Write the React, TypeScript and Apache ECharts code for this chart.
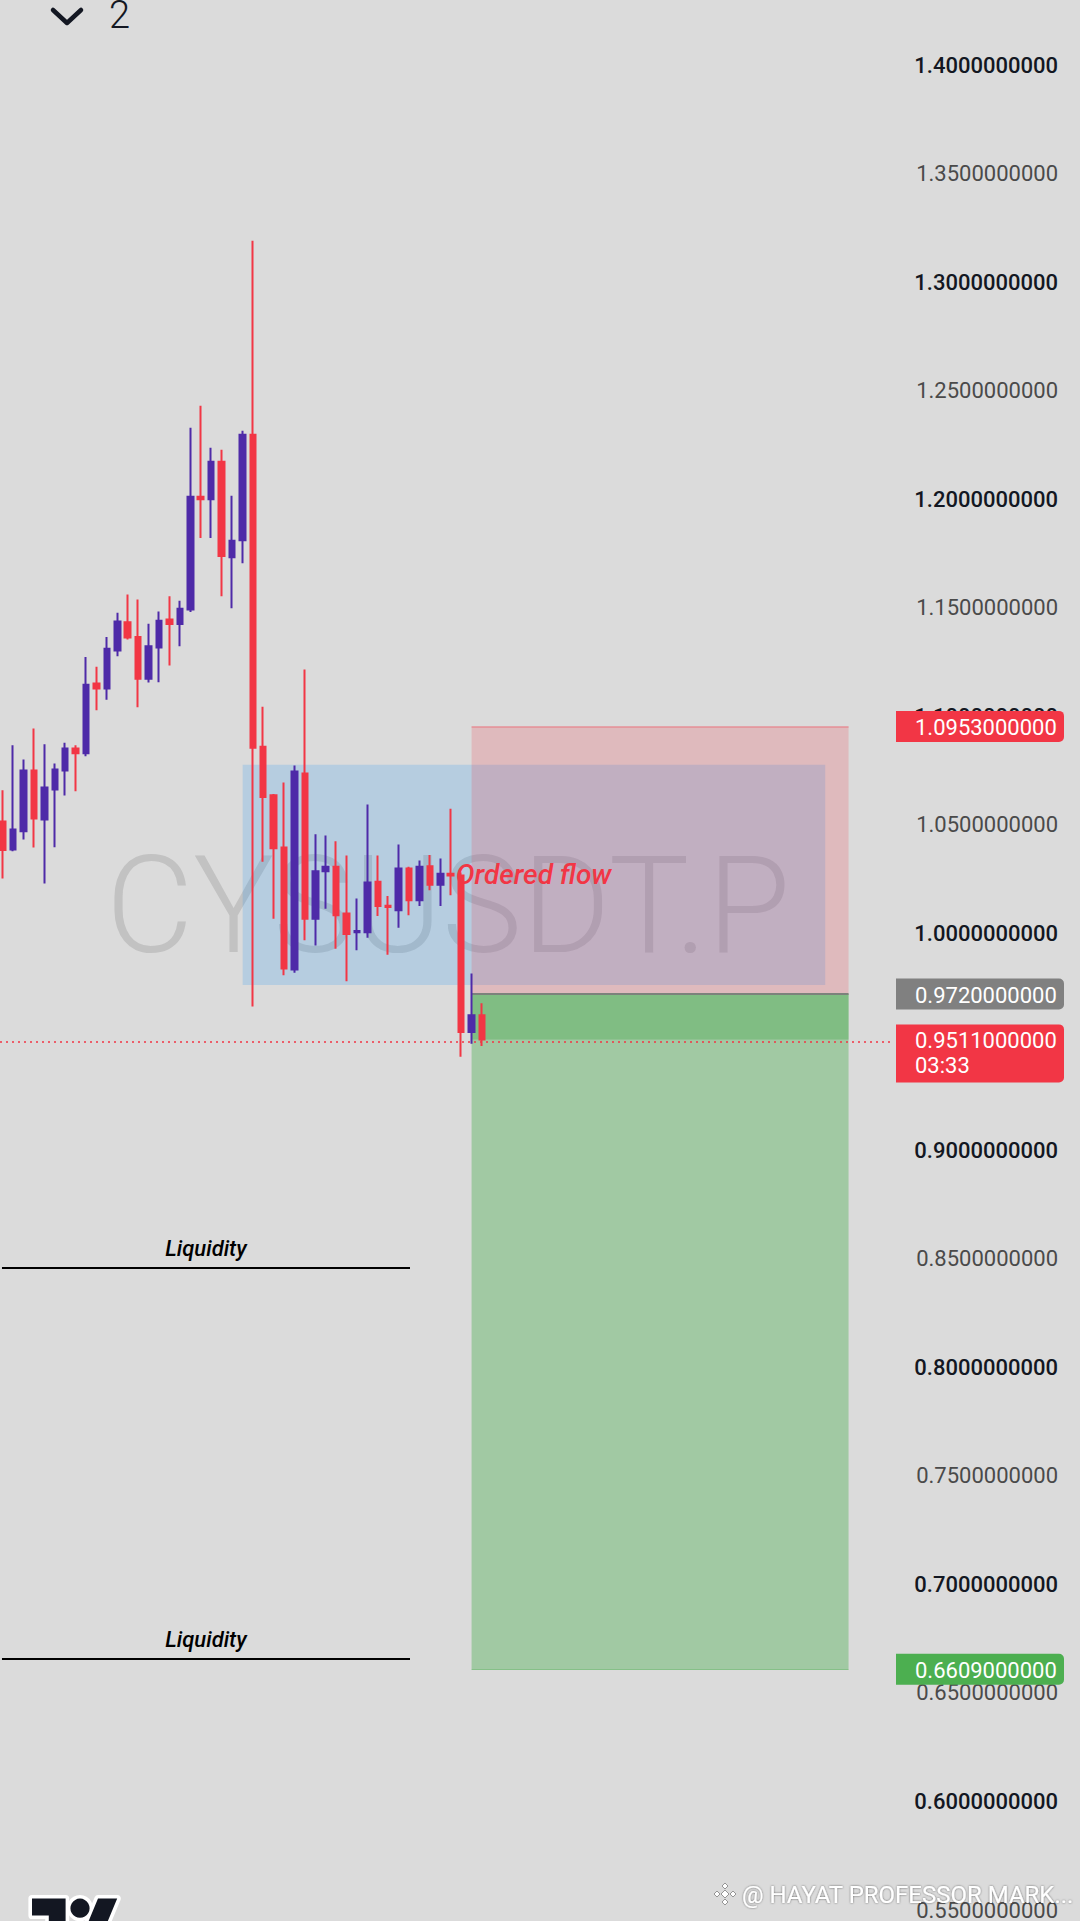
import React, { useEffect, useRef } from 'react';
import * as echarts from 'echarts';

// ---- candle data (CYSUSDT.P) ----
const candleIndex = [0, 1, 2, 3, 4, 5, 6, 7, 8, 9, 10, 11, 12, 13, 14, 15, 16, 17, 18, 19, 20, 21, 22, 23, 24, 25, 26, 27, 28, 29, 30, 31, 32, 33, 34, 35, 36, 37, 38, 39, 40, 41, 42, 43, 44, 45, 46];
const opens = [1.0515, 1.0386, 1.0470, 1.0750, 1.0524, 1.0662, 1.0750, 1.0851, 1.0829, 1.1150, 1.1128, 1.1302, 1.1433, 1.1365, 1.1173, 1.1316, 1.1445, 1.1425, 1.1491, 1.2011, 1.1999, 1.2172, 1.1732, 1.1810, 1.2297, 1.0859, 1.0636, 1.0395, 0.9833, 1.0736, 1.0067, 1.0286, 1.0306, 1.0091, 1.0004, 1.0005, 1.0237, 1.0127, 1.0106, 1.0298, 1.0152, 1.0309, 1.0223, 1.0274, 1.0266, 0.9545, 0.9622];
const closes = [1.0383, 1.0478, 1.0750, 1.0529, 1.0671, 1.0754, 1.0851, 1.0829, 1.1145, 1.1128, 1.1311, 1.1436, 1.1363, 1.1172, 1.1322, 1.1440, 1.1425, 1.1495, 1.2011, 1.1999, 1.2172, 1.1738, 1.1808, 1.2297, 1.0854, 1.0628, 1.0392, 0.9837, 1.0745, 1.0067, 1.0285, 1.0306, 1.0083, 0.9996, 1.0010, 1.0234, 1.0125, 1.0121, 1.0298, 1.0152, 1.0306, 1.0223, 1.0274, 1.0266, 0.9545, 0.9622, 0.9511];
const lows = [1.0252, 1.0378, 1.0432, 1.0395, 1.0229, 1.0396, 1.0634, 1.0654, 1.0815, 1.1027, 1.1076, 1.1276, 1.1353, 1.1041, 1.1155, 1.1156, 1.1233, 1.1322, 1.1480, 1.1821, 1.1821, 1.1552, 1.1497, 1.1704, 0.9662, 1.0329, 1.0067, 0.9806, 0.9818, 0.9968, 0.9944, 1.0113, 0.9929, 0.9779, 0.9922, 0.9979, 1.0079, 0.9901, 1.0025, 1.0083, 1.0125, 1.0198, 1.0125, 1.0175, 0.9431, 0.9491, 0.9480];
const highs = [1.0659, 1.0866, 1.0800, 1.0943, 1.0871, 1.0782, 1.0878, 1.0866, 1.1273, 1.1228, 1.1365, 1.1477, 1.1561, 1.1537, 1.1426, 1.1482, 1.1552, 1.1532, 1.2329, 1.2430, 1.2237, 1.2227, 1.2016, 1.2315, 1.3190, 1.1044, 1.0642, 1.0694, 1.0773, 1.1215, 1.0456, 1.0450, 1.0424, 1.0358, 1.0160, 1.0593, 1.0358, 1.0171, 1.0409, 1.0306, 1.0335, 1.0360, 1.0344, 1.0573, 1.0280, 0.9815, 0.9677];

// ---- price axis ----
const priceMin = 0.55;
const priceMax = 1.40;
const priceStep = 0.05;
const xMin = -0.26;
const xMax = 85.35;

// ---- drawings ----
// range box, stop zone, target zone, open-profit zone
const zoneX0 = [23.03, 45.0, 45.0, 45.0];
const zoneX1 = [78.94, 81.18, 81.18, 81.18];
const zoneTop = [1.0776, 1.0953, 0.972, 0.972];
const zoneBottom = [0.9761, 0.972, 0.6609, 0.9511];
const zoneColors = ['rgba(33,150,243,0.2)', 'rgba(242,54,69,0.2)', 'rgba(76,175,80,0.4)', 'rgba(70,170,74,0.36)'];

const liquidityLabel = 'Liquidity';
const liquidityX0 = [-0.07, -0.07];
const liquidityX1 = [39.09, 39.09];
const liquidityPrice = [0.8459, 0.6658];

const lastPrice = 0.9511;
const countdown = '03:33';
const tagValues = [1.0953, 0.972, 0.9511, 0.6609];
const tagColors = ['#f23645', '#808080', '#f23645', '#4caf50'];

const noteText = 'Ordered flow';
const noteX = 43.3;
const notePrice = 1.0271;

const symbolWatermark = 'CYSUSDT.P';
const authorWatermark = '@ HAYAT PROFESSOR MARK...';
const topLeftCount = '2';

const UP = '#4e2aa8';
const DOWN = '#f23645';
const FONT = 'Roboto, "Noto Sans", sans-serif';

const TV_PATH = 'M14 22H7V11H0V4h14v18zM28 22h-8l7.5-18h8L28 22z';
let registered = false;
function registerShapes() {
  if (registered) return;
  registered = true;
  echarts.graphic.registerShape('tvlogo', echarts.graphic.extendPath(TV_PATH, {}) as any);
}

export default function App() {
  const ref = useRef<HTMLDivElement>(null);

  useEffect(() => {
    if (!ref.current) return;
    registerShapes();
    const chart = echarts.init(ref.current, undefined, { renderer: 'svg' });

    const candles = candleIndex.map((i, k) => [i, opens[k], closes[k], lows[k], highs[k]]);

    const zoneData = zoneX0.map((x0, k) => [
      { coord: [x0, zoneTop[k]], itemStyle: { color: zoneColors[k], borderWidth: 0 } },
      { coord: [zoneX1[k], zoneBottom[k]] },
    ]);

    const borderLines = [
      [
        { coord: [zoneX0[1], zoneTop[1]], lineStyle: { color: 'rgba(242,54,69,0.35)', width: 1.5, type: 'solid' } },
        { coord: [zoneX1[1], zoneTop[1]] },
      ],
      [
        { coord: [zoneX0[1], zoneBottom[1]], lineStyle: { color: '#7c827c', width: 2, type: 'solid' } },
        { coord: [zoneX1[1], zoneBottom[1]] },
      ],
      [
        { coord: [zoneX0[2], zoneBottom[2]], lineStyle: { color: 'rgba(76,175,80,0.55)', width: 1, type: 'solid' } },
        { coord: [zoneX1[2], zoneBottom[2]] },
      ],
    ];

    const liqLines = liquidityPrice.map((p, k) => [
      { coord: [liquidityX0[k], p] },
      { coord: [liquidityX1[k], p] },
    ]);

    const option: any = {
      animation: false,
      backgroundColor: '#dbdbdb',
      textStyle: { fontFamily: FONT },
      grid: { left: 0, top: 65, width: 892, height: 1845 },
      xAxis: { type: 'value', min: xMin, max: xMax, show: false, splitLine: { show: false } },
      yAxis: {
        type: 'value',
        position: 'right',
        min: priceMin,
        max: priceMax,
        interval: priceStep,
        scale: true,
        axisLine: { show: false },
        axisTick: { show: false },
        splitLine: { show: false },
        axisLabel: {
          align: 'right',
          margin: 166,
          formatter: (v: number) => {
            const k = Math.round(v / priceStep);
            return (k % 2 === 0 ? '{b|' : '{n|') + v.toFixed(10) + '}';
          },
          rich: {
            b: { fontFamily: FONT, fontSize: 22, fontWeight: 500, color: '#131722' },
            n: { fontFamily: FONT, fontSize: 22, fontWeight: 'normal', color: '#4a4a4a' },
          },
        },
      },
      series: [
        {
          type: 'line',
          name: 'zones',
          data: [],
          z: 1,
          silent: true,
          markArea: { silent: true, data: zoneData },
          markLine: {
            silent: true,
            symbol: ['none', 'none'],
            label: { show: false },
            data: borderLines,
          },
        },
        {
          type: 'line',
          name: 'liquidity',
          data: [],
          z: 2,
          silent: true,
          markLine: {
            silent: true,
            symbol: ['none', 'none'],
            lineStyle: { color: '#000000', width: 2, type: 'solid' },
            label: {
              show: true,
              position: 'insideMiddleTop',
              formatter: liquidityLabel,
              fontFamily: FONT,
              fontStyle: 'italic',
              fontWeight: 500,
              fontSize: 22,
              color: '#000000',
              distance: 8,
            },
            data: liqLines,
          },
        },
        {
          type: 'candlestick',
          name: 'CYSUSDT.P',
          z: 5,
          barWidth: 6,
          data: candles,
          itemStyle: {
            color: UP,
            color0: DOWN,
            borderColor: UP,
            borderColor0: DOWN,
            borderWidth: 2,
          },
        },
        {
          type: 'line',
          name: 'last',
          data: [],
          z: 6,
          silent: true,
          markLine: {
            silent: true,
            symbol: ['none', 'none'],
            label: { show: false },
            lineStyle: { color: DOWN, width: 1.5, type: [2, 4] },
            data: [{ yAxis: lastPrice }],
          },
        },
      ],
    };

    chart.setOption(option);

    const yPx = (v: number) => chart.convertToPixel({ yAxisIndex: 0 }, v) as number;
    const ptPx = (x: number, y: number) => chart.convertToPixel({ gridIndex: 0 }, [x, y]) as number[];

    const graphics: any[] = [];

    // symbol watermark (behind everything)
    graphics.push({
      type: 'text',
      z: 0,
      silent: true,
      style: {
        text: symbolWatermark,
        x: 448,
        y: 906,
        align: 'center',
        verticalAlign: 'middle',
        fontFamily: FONT,
        fontWeight: 300,
        fontSize: 135,
        fill: 'rgba(120,120,120,0.25)',
      },
    });

    // note text
    const np = ptPx(noteX, notePrice);
    graphics.push({
      type: 'text',
      z: 50,
      silent: true,
      style: {
        text: noteText,
        x: np[0] + 2,
        y: np[1],
        align: 'left',
        verticalAlign: 'middle',
        fontFamily: FONT,
        fontStyle: 'italic',
        fontWeight: 500,
        fontSize: 28,
        fill: DOWN,
      },
    });

    // price tags on the axis
    tagValues.forEach((v, k) => {
      const cy = yPx(v);
      const isLast = v === lastPrice;
      const h = isLast ? 58 : 31;
      const top = isLast ? cy - 15 : cy - 15.5;
      graphics.push({
        type: 'rect',
        z: 100,
        silent: true,
        shape: { x: 896, y: top, width: 168, height: h, r: [0, 5, 5, 0] },
        style: { fill: tagColors[k] },
      });
      graphics.push({
        type: 'text',
        z: 101,
        silent: true,
        style: {
          text: v.toFixed(10),
          x: 915,
          y: cy + 1,
          align: 'left',
          verticalAlign: 'middle',
          fontFamily: FONT,
          fontSize: 22,
          fill: '#ffffff',
        },
      });
      if (isLast) {
        graphics.push({
          type: 'text',
          z: 101,
          silent: true,
          style: {
            text: countdown,
            x: 915,
            y: cy + 26,
            align: 'left',
            verticalAlign: 'middle',
            fontFamily: FONT,
            fontSize: 22,
            fill: '#ffffff',
          },
        });
      }
    });

    // top-left chevron + count
    graphics.push({
      type: 'polyline',
      z: 100,
      silent: true,
      shape: { points: [[53, 10], [67, 23], [81, 10]] },
      style: { stroke: '#131722', lineWidth: 4.5, fill: 'none', lineCap: 'round', lineJoin: 'round' },
    });
    graphics.push({
      type: 'text',
      z: 100,
      silent: true,
      style: {
        text: topLeftCount,
        x: 109,
        y: 15,
        align: 'left',
        verticalAlign: 'middle',
        fontFamily: FONT,
        fontWeight: 300,
        fontSize: 38,
        fill: '#131722',
      },
    });

    // TradingView logo (bottom-left)
    graphics.push({
      type: 'tvlogo',
      z: 100,
      silent: true,
      x: 32,
      y: 1889,
      scaleX: 2.4,
      scaleY: 2.4,
      style: { fill: '#ffffff', stroke: '#ffffff', lineWidth: 3, lineJoin: 'round' },
    });
    graphics.push({
      type: 'circle',
      z: 100,
      silent: true,
      shape: { cx: 32 + 20 * 2.4, cy: 1889 + 8 * 2.4, r: 4 * 2.4 + 3.5 },
      style: { fill: '#ffffff' },
    });
    graphics.push({
      type: 'tvlogo',
      z: 101,
      silent: true,
      x: 32,
      y: 1889,
      scaleX: 2.4,
      scaleY: 2.4,
      style: { fill: '#131722' },
    });
    graphics.push({
      type: 'circle',
      z: 101,
      silent: true,
      shape: { cx: 32 + 20 * 2.4, cy: 1889 + 8 * 2.4, r: 4 * 2.4 },
      style: { fill: '#131722' },
    });

    // author watermark with exchange icon (bottom-right)
    const ic = [725, 1894];
    const diamonds = [[0, 0, 4], [-8, 0, 3], [8, 0, 3], [0, -8, 3], [0, 8, 3]];
    diamonds.forEach(([dx, dy, s]) => {
      const cx = ic[0] + dx;
      const cy = ic[1] + dy;
      graphics.push({
        type: 'polygon',
        z: 100,
        silent: true,
        shape: { points: [[cx, cy - s], [cx + s, cy], [cx, cy + s], [cx - s, cy]] },
        style: { fill: '#ffffff', stroke: 'rgba(90,90,90,0.6)', lineWidth: 1 },
      });
    });
    graphics.push({
      type: 'text',
      z: 100,
      silent: true,
      style: {
        text: authorWatermark,
        x: 742,
        y: 1895,
        align: 'left',
        verticalAlign: 'middle',
        fontFamily: FONT,
        fontSize: 24,
        fill: '#ffffff',
        textShadowColor: 'rgba(0,0,0,0.55)',
        textShadowBlur: 2,
        textShadowOffsetX: 0,
        textShadowOffsetY: 0,
      },
    });

    chart.setOption({ graphic: { elements: graphics } });

    return () => {
      chart.dispose();
    };
  }, []);

  return (
    <div
      ref={ref}
      style={{ position: 'absolute', left: 0, top: 0, width: 1080, height: 1921, background: '#dbdbdb' }}
    />
  );
}
